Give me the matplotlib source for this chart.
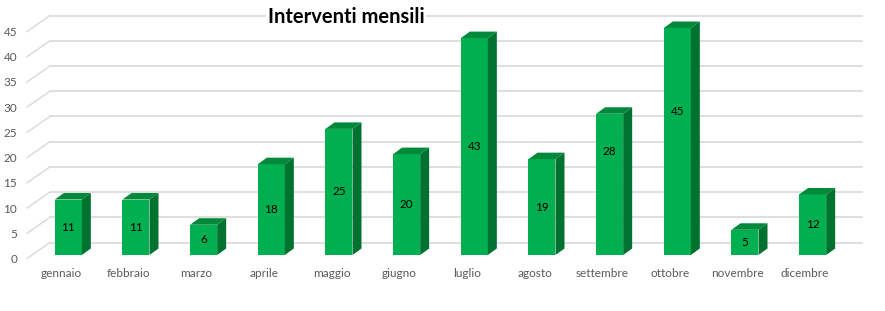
import numpy as np
import matplotlib
matplotlib.use('Agg')
import matplotlib.pyplot as plt
from matplotlib.patches import Polygon

# data
months = ['gennaio', 'febbraio', 'marzo', 'aprile', 'maggio', 'giugno',
          'luglio', 'agosto', 'settembre', 'ottobre', 'novembre', 'dicembre']
interventi = [11, 11, 6, 18, 25, 20, 43, 19, 28, 45, 5, 12]
y_ticks = [0, 5, 10, 15, 20, 25, 30, 35, 40, 45]

title = 'Interventi mensili'

# figure geometry (pixels, dpi=100)
W, H = 885, 311
px_x = 812 / 12.0      # pixels per category
px_y = 227 / 45.0      # pixels per unit

plt.rcParams['font.family'] = ['Lato', 'DejaVu Sans']

fig = plt.figure(figsize=(W / 100, H / 100), dpi=100)
ax = fig.add_axes([27 / W, (H - 258.5) / H, 812 / W, 227 / H])
ax.set_xlim(-0.5, 11.5)
ax.set_ylim(0, 45)
for s in ax.spines.values():
    s.set_visible(False)

grid_col = '#d9d9d9'
# back wall offset
wx, wy = 23 / px_x, 16 / px_y
for t in y_ticks:
    ax.plot([-0.5 + wx, 11.5 + wx], [t + wy, t + wy], color=grid_col, lw=1.2,
            clip_on=False, zorder=1)
    ax.plot([-0.5, -0.5 + wx], [t, t + wy], color=grid_col, lw=1,
            clip_on=False, zorder=1)

# bars (front face shifted into the depth)
bx, by = 7.5 / px_x, 3.5 / px_y
dx, dy = 9 / px_x, 6.5 / px_y
w = 27 / px_x
front = '#00b050'
side = '#00722f'
top = '#00883b'
xs = np.arange(len(months))
bars = ax.bar(xs + bx, interventi, width=w, bottom=by, color=front, zorder=3)
for b in bars:
    b.set_clip_on(False)
for x, v in zip(xs, interventi):
    x0, x1 = x + bx - w / 2, x + bx + w / 2
    y0, y1 = by, by + v
    ax.add_patch(Polygon([(x1, y0), (x1 + dx, y0 + dy), (x1 + dx, y1 + dy), (x1, y1)],
                         closed=True, facecolor=side, edgecolor='none', zorder=3,
                         clip_on=False))
    ax.add_patch(Polygon([(x0, y1), (x0 + dx, y1 + dy), (x1 + dx, y1 + dy), (x1, y1)],
                         closed=True, facecolor=top, edgecolor='none', zorder=3,
                         clip_on=False))

# data labels (two were moved up in the original)
label_raise = {8: 6.5, 9: 6}
for i, (x, v) in enumerate(zip(xs, interventi)):
    ax.text(x + bx, by + v / 2 + label_raise.get(i, 0), str(v), ha='center',
            va='center', fontsize=8.5, color='black', zorder=4)

ax.set_yticks(y_ticks)
ax.set_yticklabels([str(t) for t in y_ticks], fontsize=8.5, color='#595959')
ax.set_xticks(xs)
ax.set_xticklabels(months, fontsize=8.5, color='#595959')
ax.tick_params(axis='y', length=0, pad=7)
ax.tick_params(axis='x', length=0, pad=7)

fig.text(346 / W, 1 - 17 / H, title, ha='center', va='center', fontsize=14.5,
         fontweight='bold', color='black',
         bbox=dict(facecolor='white', edgecolor='none', pad=1))

fig.savefig('out.png', dpi=100)
